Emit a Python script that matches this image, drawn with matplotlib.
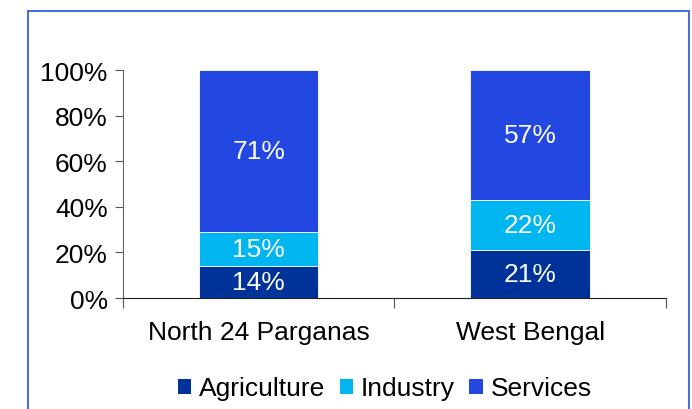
import matplotlib.pyplot as plt
from matplotlib.patches import Patch, Rectangle
from matplotlib.ticker import PercentFormatter

plt.rcParams['font.family'] = ['Liberation Sans', 'DejaVu Sans']

# Data
regions = ['North 24 Parganas', 'West Bengal']
sectors = ['Agriculture', 'Industry', 'Services']
agriculture = [14, 21]
industry = [15, 22]
services = [71, 57]

colors = ['#003399', '#00B6F0', '#2348E2']

fig = plt.figure(figsize=(6.92, 4.10), dpi=100)
ax = fig.add_axes([0.1777, 0.2707, 0.7847, 0.5561])

x = list(range(len(regions)))
bottom = [0, 0]
for vals, col in zip([agriculture, industry, services], colors):
    bars = ax.bar(x, vals, width=0.44, bottom=bottom, color=col, edgecolor='white', linewidth=0.6)
    for b, v, bt in zip(bars, vals, bottom):
        ax.text(b.get_x() + b.get_width() / 2, bt + v / 2, f'{v}%', ha='center', va='center',
                color='white', fontsize=19)
    bottom = [b + v for b, v in zip(bottom, vals)]

ax.set_xlim(-0.5, 1.5)
ax.set_ylim(0, 100)
ax.set_yticks(range(0, 101, 20))
ax.yaxis.set_major_formatter(PercentFormatter(decimals=0))
ax.tick_params(axis='y', labelsize=19, length=6, color='#555555', pad=5)

ax.set_xticks([-0.5, 0.5, 1.5])
ax.set_xticklabels([])
ax.set_xticks(x, minor=True)
ax.set_xticklabels(regions, minor=True)
ax.tick_params(axis='x', which='major', length=7, direction='out', color='#555555')
ax.tick_params(axis='x', which='minor', length=0, labelsize=19, pad=16)

ax.spines['top'].set_visible(False)
ax.spines['right'].set_visible(False)
ax.spines['left'].set_color('#666666')
ax.spines['bottom'].set_color('#222222')

handles = [Patch(facecolor=c, label=s) for c, s in zip(colors, sectors)]
fig.legend(handles=handles, loc='center', bbox_to_anchor=(0.556, 0.05), ncol=3, frameon=False,
           fontsize=19, handlelength=0.5, handleheight=0.5, handletextpad=0.3, columnspacing=0.55)

# blue frame around the chart area
fig.patches.append(Rectangle((28 / 692, -0.05), (689 - 28) / 692, 1.05 - 12 / 410,
                             transform=fig.transFigure, fill=False, edgecolor='#4a6ee0', linewidth=1.5))

fig.savefig('out.png', dpi=100)
